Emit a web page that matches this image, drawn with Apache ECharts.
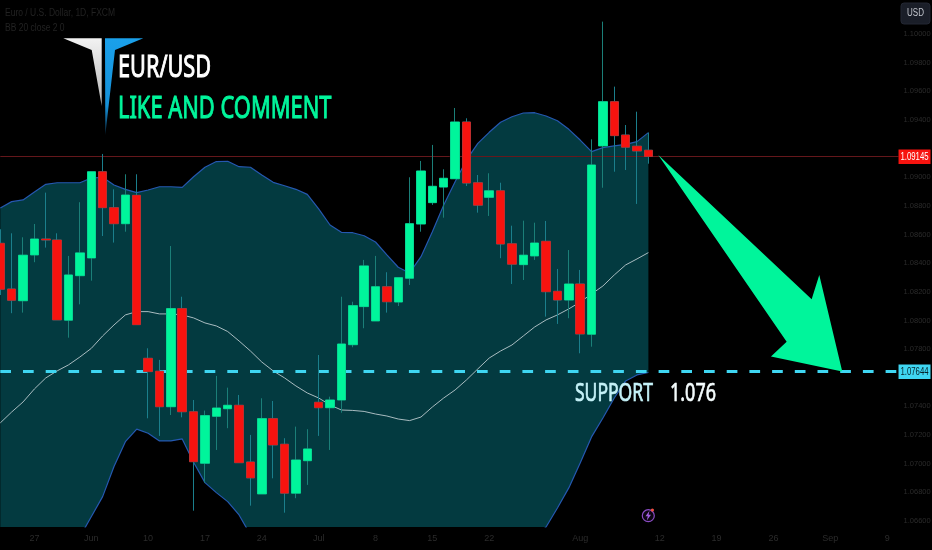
<!DOCTYPE html>
<html>
<head>
<meta charset="utf-8">
<style>html,body{margin:0;padding:0;background:#000}#c{width:932px;height:550px}</style>
<script src="https://cdn.jsdelivr.net/npm/echarts@6/dist/echarts.min.js"></script>
</head>
<body>
<div id="c"></div>
<script>
const opens = [1.08539,1.08220,1.08138,1.08458,1.08569,1.08562,1.08002,1.08313,1.08437,1.09039,1.08788,1.08676,1.08874,1.07736,1.07646,1.07398,1.08083,1.07363,1.07003,1.07331,1.07384,1.07408,1.07012,1.06789,1.07315,1.07136,1.06794,1.07021,1.07429,1.07391,1.07445,1.07831,1.08097,1.07997,1.08236,1.08129,1.08295,1.08674,1.08823,1.08932,1.08990,1.09386,1.08962,1.08860,1.08906,1.08536,1.08390,1.08451,1.08553,1.08204,1.08143,1.08255,1.07904,1.09219,1.09528,1.09295,1.09217,1.09189];
const closes = [1.08218,1.08141,1.08456,1.08569,1.08562,1.08004,1.08318,1.08472,1.09039,1.08788,1.08676,1.08876,1.07971,1.07643,1.07398,1.08083,1.07363,1.07014,1.07336,1.07389,1.07408,1.07007,1.06901,1.07315,1.07131,1.06794,1.07026,1.07103,1.07391,1.07445,1.07836,1.08104,1.08381,1.08236,1.08131,1.08299,1.08676,1.09044,1.08937,1.08993,1.09386,1.08960,1.08805,1.08906,1.08534,1.08393,1.08456,1.08541,1.08201,1.08143,1.08255,1.07906,1.09086,1.09528,1.09291,1.09210,1.09184,1.09145];
const lows = [1.08178,1.08051,1.08055,1.08407,1.08509,1.08004,1.07880,1.08113,1.08278,1.08590,1.08544,1.08620,1.07971,1.07317,1.07194,1.07340,1.07324,1.06672,1.06868,1.07096,1.07248,1.07007,1.06707,1.06789,1.06898,1.06658,1.06759,1.06852,1.07194,1.07096,1.07356,1.07813,1.07946,1.07997,1.08055,1.08101,1.08248,1.08620,1.08807,1.08718,1.08990,1.08939,1.08753,1.08730,1.08435,1.08255,1.08283,1.08423,1.08027,1.07976,1.08016,1.07771,1.07817,1.08927,1.09039,1.09051,1.08814,1.09095];
const highs = [1.08637,1.08609,1.08581,1.08674,1.08893,1.08609,1.08451,1.08826,1.09039,1.09163,1.08916,1.09021,1.09021,1.07806,1.07725,1.08520,1.08166,1.07445,1.07371,1.07613,1.07531,1.07480,1.07201,1.07457,1.07438,1.07178,1.07259,1.07241,1.07759,1.07468,1.08166,1.08131,1.08423,1.08451,1.08337,1.08299,1.09000,1.09114,1.09226,1.09056,1.09484,1.09412,1.09016,1.09028,1.08962,1.08662,1.08697,1.08683,1.08695,1.08360,1.08492,1.08353,1.09265,1.10087,1.09633,1.09365,1.09458,1.09312];
const bbUpper = [1.08786,1.08830,1.08842,1.08897,1.08951,1.08962,1.08962,1.08962,1.08995,1.09000,1.08946,1.08916,1.08893,1.08911,1.08934,1.08934,1.08930,1.09004,1.09070,1.09110,1.09112,1.09074,1.09070,1.09016,1.08965,1.08941,1.08916,1.08881,1.08779,1.08667,1.08616,1.08613,1.08592,1.08548,1.08458,1.08372,1.08332,1.08446,1.08620,1.08807,1.08969,1.09121,1.09237,1.09314,1.09384,1.09423,1.09449,1.09451,1.09428,1.09395,1.09335,1.09260,1.09179,1.09207,1.09219,1.09230,1.09249,1.09312];
const bbBasis = [1.07285,1.07361,1.07431,1.07522,1.07599,1.07648,1.07690,1.07745,1.07805,1.07892,1.07969,1.08039,1.08062,1.08062,1.08046,1.08046,1.08039,1.08018,1.07983,1.07962,1.07923,1.07857,1.07787,1.07710,1.07648,1.07599,1.07543,1.07494,1.07459,1.07410,1.07375,1.07372,1.07365,1.07347,1.07333,1.07312,1.07301,1.07326,1.07396,1.07459,1.07515,1.07585,1.07662,1.07738,1.07787,1.07829,1.07892,1.07955,1.08004,1.08039,1.08081,1.08129,1.08185,1.08241,1.08318,1.08388,1.08430,1.08474];
const bbLower = [1.06049,1.06084,1.06119,1.06119,1.06154,1.06224,1.06363,1.06489,1.06630,1.06770,1.06980,1.07154,1.07241,1.07213,1.07159,1.07159,1.07173,1.07010,1.06868,1.06798,1.06735,1.06642,1.06503,1.06328,1.06224,1.06119,1.06049,1.05979,1.05909,1.05839,1.05770,1.05770,1.05770,1.05770,1.05839,1.05839,1.05909,1.05944,1.05979,1.06014,1.06049,1.06084,1.06119,1.06188,1.06258,1.06328,1.06398,1.06482,1.06558,1.06691,1.06831,1.07005,1.07187,1.07319,1.07459,1.07578,1.07620,1.07637];
const priceTicks = [1.100,1.098,1.096,1.094,1.090,1.088,1.086,1.084,1.082,1.080,1.078,1.074,1.072,1.070,1.068,1.066];
const dateTickIdx = [3,8,13,18,23,28,33,38,43,51,58,63,68,73,78];
const dateTickLabels = ["27","Jun","10","17","24","Jul","8","15","22","Aug","12","19","26","Sep","9"];
const lastPrice = 1.09145;
const supportPrice = 1.07644;
const priceLevels = [lastPrice, supportPrice];
const arrowIdx = [57.87,71.36,72.03,74.05,67.78,69.16];
const arrowPrice = [1.09156,1.08148,1.08318,1.07643,1.07748,1.07852];
const lineEnds = [0,79];

const G = '#00f59b', R = '#f7130f', DIM = '#2b2b2b';
const idx = opens.map((_, i) => i);
const pair = arr => arr.map((v, i) => [i, v]);
const chart = echarts.init(document.getElementById('c'), null, {renderer:'canvas'});
const grad = (stops) => new echarts.graphic.LinearGradient(0,0,0,1,stops);

const bandItem = (params, api) => {
  if (params.dataIndex !== 0) return null;
  const pts = [];
  idx.forEach(i => pts.push(api.coord([i, bbUpper[i]])));
  idx.slice().reverse().forEach(i => pts.push(api.coord([i, bbLower[i]])));
  return {type:'polygon', shape:{points:pts}, style:{fill:'#033a40'}};
};
const arrowItem = (params, api) => {
  const pts = arrowIdx.map((x, k) => api.coord([x, arrowPrice[k]]));
  return {type:'polygon', shape:{points:pts}, style:{fill:G}};
};
const tagItem = (params, api) => {
  const p = api.coord([api.value(0), api.value(1)]);
  const isLast = params.dataIndex === 0;
  return {type:'group', children:[
    {type:'rect', shape:{x:p[0], y:p[1]-7, width:32, height:14.5}, style:{fill:isLast?'#f7130f':'#3fd6f2'}},
    {type:'text', x:p[0]+16, y:p[1]+0.5, scaleX:0.78, style:{text:api.value(1).toFixed(5), fill:isLast?'#fff':'#06222a', font:'10px "Liberation Sans"', textAlign:'center', textVerticalAlign:'middle'}}
  ]};
};

chart.setOption({
  animation:false,
  backgroundColor:'#000',
  grid:{left:-11.07, top:0, width:909.6, height:527, containLabel:false, outerBoundsMode:'none'},
  xAxis:{type:'value', min:-1, max:79, axisLine:{show:false}, axisTick:{show:false}, splitLine:{show:false},
    axisLabel:{customValues:dateTickIdx, margin:7, color:DIM, fontSize:9, fontFamily:'Liberation Sans',
      formatter:v => dateTickLabels[dateTickIdx.indexOf(v)] || ''}},
  yAxis:{type:'value', position:'right', min:1.06558, max:1.10238, axisLine:{show:false}, axisTick:{show:false}, splitLine:{show:false},
    axisLabel:{customValues:priceTicks, margin:5, color:DIM, fontSize:7.5, fontFamily:'Liberation Sans',
      formatter:v => v.toFixed(5)}},
  series:[
    {name:'BB band', type:'custom', clip:true, z:1, renderItem:bandItem, data:[[0,1.09]], silent:true},
    {name:'BB upper', type:'line', z:2, data:pair(bbUpper), symbol:'none', lineStyle:{color:'#2558b0', width:1.2}},
    {name:'BB lower', type:'line', z:2, data:pair(bbLower), symbol:'none', lineStyle:{color:'#2558b0', width:1.2}},
    {name:'BB basis', type:'line', z:2, data:pair(bbBasis), symbol:'none', lineStyle:{color:'#a9bcc0', width:1}},
    {name:'Last', type:'line', z:2, data:lineEnds.map(x=>[x,lastPrice]), symbol:'none', lineStyle:{color:'#66181c', width:1}},
    {name:'Support', type:'line', z:3, data:lineEnds.map(x=>[x,supportPrice]), symbol:'none', lineStyle:{color:'#3fd6f2', width:3, type:[10.7,12]}},
    {name:'Wicks', type:'candlestick', z:4, barWidth:9, data:idx.map(i=>[i,opens[i],closes[i],lows[i],highs[i]]),
      itemStyle:{color:'transparent', color0:'transparent', borderColor:'#1b7f78', borderColor0:'#1b7f8c', borderWidth:1}},
    {name:'EUR/USD', type:'candlestick', z:5, barWidth:9,
      data:idx.map(i=>[i,opens[i],closes[i],Math.min(opens[i],closes[i]),Math.max(opens[i],closes[i])]),
      itemStyle:{color:G, color0:R, borderColor:G, borderColor0:R, borderWidth:0.5}},
    {name:'Arrow', type:'custom', z:6, renderItem:arrowItem, data:[[0,1.09]], silent:true},
    {name:'Tags', type:'custom', z:7, clip:false, renderItem:tagItem, data:priceLevels.map(v=>[79,v])}
  ],
  graphic:[
    {type:'polygon', z:20, shape:{points:[[63.3,38.3],[101.7,38.3],[101.7,106],[91.7,50]]}, style:{fill:grad([{offset:0,color:'#f2f2f2'},{offset:1,color:'#b8b8b8'}])}},
    {type:'polygon', z:20, shape:{points:[[105,38.3],[143.3,38.3],[115,50],[105.3,135]]}, style:{fill:grad([{offset:0,color:'#1aa0ea'},{offset:0.7,color:'#1590d8'},{offset:1,color:'#0a2a40'}])}},
    {type:'text', z:20, x:118, y:68.5, scaleX:0.70, style:{text:'EUR/USD', fill:'#fff', stroke:'#fff', lineWidth:1, font:'31px "Noto Sans"', textVerticalAlign:'middle'}},
    {type:'text', z:20, x:118, y:109, scaleX:0.705, style:{text:'LIKE AND COMMENT', fill:G, stroke:G, lineWidth:1, font:'31px "Noto Sans"', textVerticalAlign:'middle'}},
    {type:'text', z:20, x:575, y:393.5, scaleX:0.70, style:{text:'SUPPORT', fill:'#c4f1f7', stroke:'#c4f1f7', lineWidth:0.7, font:'25px "Noto Sans"', textVerticalAlign:'middle'}},
    {type:'text', z:20, x:670, y:393.5, scaleX:0.72, style:{text:'1.076', fill:'#f4fcfd', stroke:'#f4fcfd', lineWidth:0.7, font:'25px "Noto Sans"', textVerticalAlign:'middle'}},
    {type:'text', z:20, x:5, y:13, scaleX:0.85, style:{text:'Euro / U.S. Dollar, 1D, FXCM', fill:'#222', font:'10px "Liberation Sans"', textVerticalAlign:'middle'}},
    {type:'text', z:20, x:5, y:28, scaleX:0.85, style:{text:'BB 20 close 2 0', fill:'#222', font:'10px "Liberation Sans"', textVerticalAlign:'middle'}},
    {type:'rect', z:20, shape:{x:901, y:3, width:29, height:21, r:3}, style:{fill:'#1a1e28', stroke:'#232733'}},
    {type:'text', z:21, x:915.5, y:13.5, scaleX:0.8, style:{text:'USD', fill:'#c4c7cf', font:'10px "Liberation Sans"', textAlign:'center', textVerticalAlign:'middle'}},
    {type:'circle', z:20, shape:{cx:648.3, cy:515.7, r:6}, style:{fill:'#0d0612', stroke:'#8a4cc4', lineWidth:1.2}},
    {type:'polygon', z:21, shape:{points:[[649.5,510.8],[645.5,516.3],[647.8,516.3],[646.8,520.6],[651,514.8],[648.6,514.8]]}, style:{fill:'#a25fe0'}},
    {type:'circle', z:22, shape:{cx:652.4, cy:510, r:1.6}, style:{fill:'#f05040'}}
  ]
});
</script>
</body>
</html>
